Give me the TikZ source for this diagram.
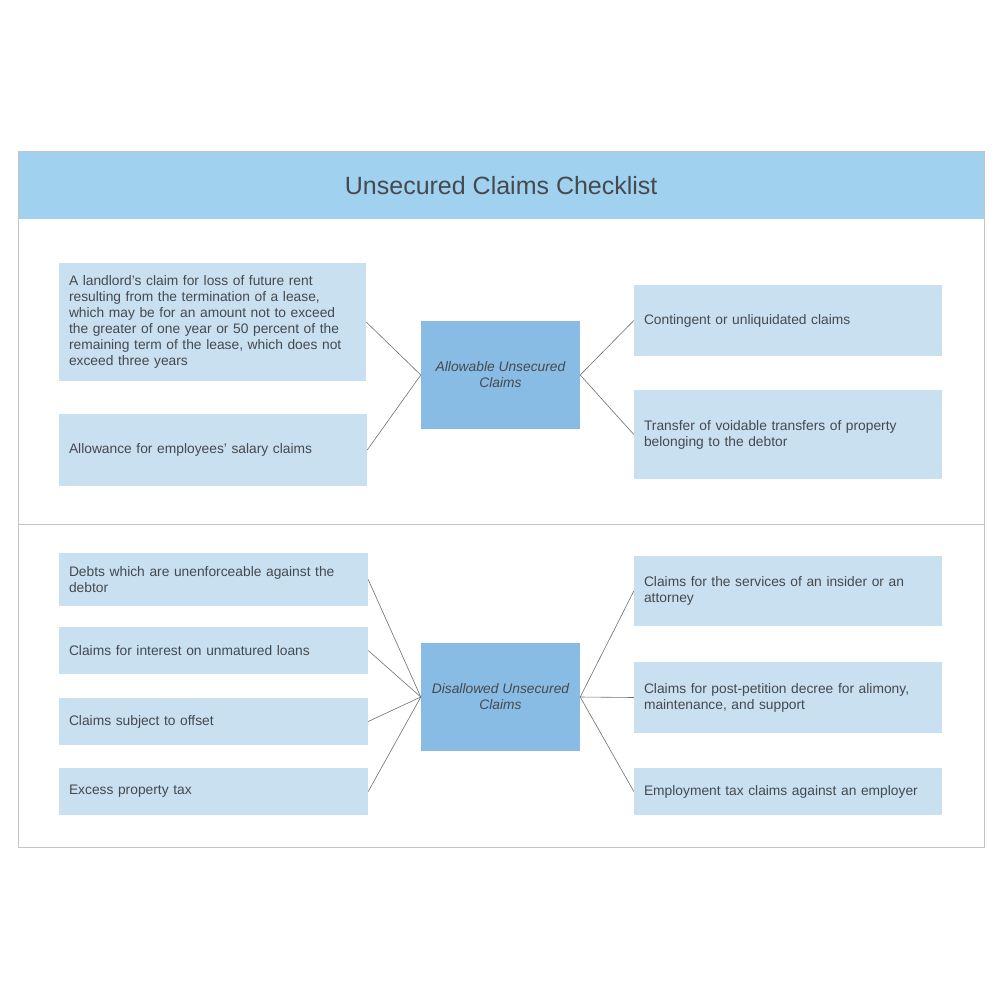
\documentclass[tikz,border=0pt]{standalone}
\usepackage{fontspec}
\setmainfont{Liberation Sans}
\definecolor{hdr}{HTML}{A0D2F0}
\definecolor{lbox}{HTML}{C9E0F1}
\definecolor{cbox}{HTML}{88BCE4}
\definecolor{frame}{HTML}{C4C4C4}
\definecolor{txt}{HTML}{454A4E}
\definecolor{conn}{HTML}{707070}
\tikzset{
  item/.style={fill=lbox, draw=none, inner xsep=10pt, inner ysep=0pt, text width=#1-20pt,
    align=left, font=\fontsize{13.8}{16}\selectfont, text=txt},
  item/.default=288pt,
  hub/.style={fill=cbox, draw=none, minimum width=159pt, minimum height=108pt, inner sep=0pt,
    align=center, font=\fontsize{13.8}{16}\selectfont\itshape, text=txt},
  link/.style={draw=conn, line width=0.6pt},
}
\begin{document}
\begin{tikzpicture}[x=1pt,y=-1pt]
\useasboundingbox (0,0) rectangle (1000,1000);
\fill[white] (0,0) rectangle (1000,1000);
% frame
\node[fill=hdr, draw=none, minimum width=966pt, minimum height=67pt, inner sep=0pt, anchor=north west,
  font=\fontsize{25}{29}\selectfont, text=txt] (title) at (18,152) {Unsecured Claims Checklist};
\draw[frame, line width=1pt] (18,152) rectangle (984,847);
\coordinate (dl) at (18,524);
\coordinate (dr) at (984,524);
\draw[frame, line width=1pt] (dl) -- (dr);
% top section
\node[item=307pt, minimum height=118pt] (a1) at (212.5,322) {A landlord's claim for loss of future rent\\resulting from the termination of a lease,\\which may be for an amount not to exceed\\the greater of one year or 50 percent of the\\remaining term of the lease, which does not\\exceed three years};
\node[item=308pt, minimum height=72pt] (a2) at (213,450) {Allowance for employees' salary claims};
\node[hub] (c1) at (500.5,375) {Allowable Unsecured\\Claims};
\node[item=308pt, minimum height=71pt] (a3) at (788,320.5) {Contingent or unliquidated claims};
\node[item=308pt, minimum height=89pt] (a4) at (788,434.5) {Transfer of voidable transfers of property\\belonging to the debtor};
% bottom section
\node[item=309pt, minimum height=53pt] (b1) at (213.5,579.5) {Debts which are unenforceable against the\\debtor};
\node[item=309pt, minimum height=47pt] (b2) at (213.5,650.5) {Claims for interest on unmatured loans};
\node[item=309pt, minimum height=47pt] (b3) at (213.5,721.5) {Claims subject to offset};
\node[item=309pt, minimum height=47pt] (b4) at (213.5,791.5) {Excess property tax};
\node[hub] (c2) at (500.5,697) {Disallowed Unsecured\\Claims};
\node[item=308pt, minimum height=70pt] (b5) at (788,591) {Claims for the services of an insider or an\\attorney};
\node[item=308pt, minimum height=71pt] (b6) at (788,697.5) {Claims for post-petition decree for alimony,\\maintenance, and support};
\node[item=308pt, minimum height=47pt] (b7) at (788,791.5) {Employment tax claims against an employer};
% connectors
\draw[link] (c1.west) -- (a1.east);
\draw[link] (c1.west) -- (a2.east);
\draw[link] (c1.east) -- (a3.west);
\draw[link] (c1.east) -- (a4.west);
\foreach \n in {b1,b2,b3,b4} \draw[link] (c2.west) -- (\n.east);
\foreach \n in {b5,b6,b7} \draw[link] (c2.east) -- (\n.west);
\end{tikzpicture}
\end{document}
